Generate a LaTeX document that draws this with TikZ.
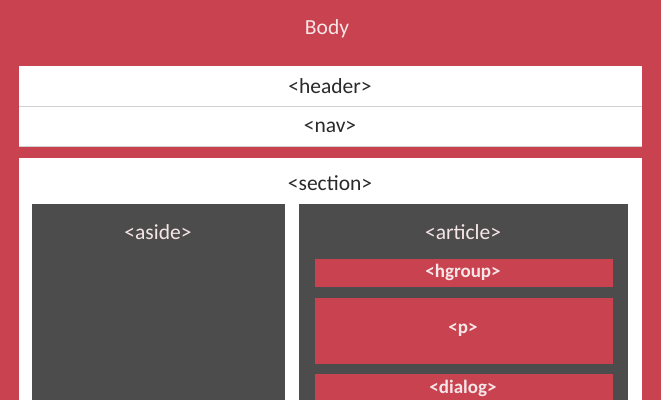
\documentclass[tikz,border=0pt]{standalone}
\usepackage{fontspec}
\setmainfont{Carlito}
\definecolor{bodyred}{HTML}{C8424F}
\definecolor{darkgray}{HTML}{4C4C4C}
\definecolor{divgray}{HTML}{D2D2D2}
\definecolor{lighttext}{HTML}{F7E6E8}
\definecolor{darktext}{HTML}{2A2A2A}
\begin{document}
\begin{tikzpicture}[x=1pt,y=-1pt,
  lbl/.style={font=\fontsize{21.5}{25}\selectfont,inner sep=0pt},
  darklbl/.style={lbl,text=darktext},
  lightlbl/.style={lbl,text=lighttext},
  boldlbl/.style={lbl,text=lighttext,font=\fontsize{19}{23}\selectfont\bfseries}
]
\useasboundingbox (0,0) rectangle (661,400);
\fill[bodyred] (0,0) rectangle (661,400);
% header / nav
\fill[white] (19,66) rectangle (642,146);
\draw[divgray,line width=1pt] (19,106) -- (642,106);
\draw[divgray,line width=0.8pt] (19,146) -- (642,146);
% section
\fill[white] (19,158) rectangle (642,400);
% aside & article
\fill[darkgray] (32,204) rectangle (285,400);
\fill[darkgray] (299,204) rectangle (628,400);
% inner red boxes
\fill[bodyred] (315,259) rectangle (613,287);
\fill[bodyred] (315,298) rectangle (613,364);
\fill[bodyred] (315,374) rectangle (613,400);
% labels
\node[lightlbl] (body) at (327,28.5) {Body};
\node[darklbl] (header) at (330,86.5) {<header>};
\node[darklbl] (nav) at (330,126.5) {<nav>};
\node[darklbl] (section) at (330,183.5) {<section>};
\node[lightlbl] (aside) at (158,232.5) {<aside>};
\node[lightlbl] (article) at (463,232.5) {<article>};
\node[boldlbl] (hgroup) at (463,272.5) {<hgroup>};
\node[boldlbl] (p) at (463,329.5) {<p>};
\node[boldlbl] (dialog) at (463,388.5) {<dialog>};
\end{tikzpicture}
\end{document}
